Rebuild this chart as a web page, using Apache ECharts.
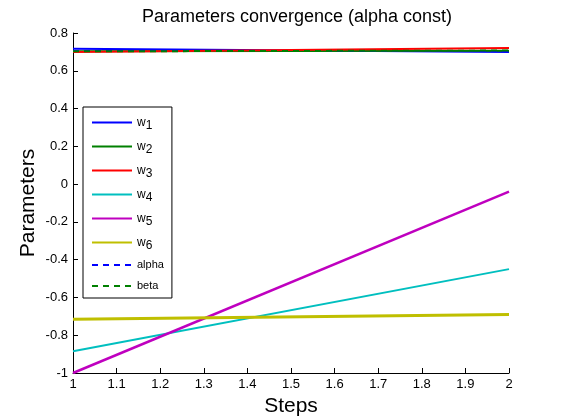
<!DOCTYPE html>
<html>
<head>
<meta charset="utf-8">
<script src="https://cdn.jsdelivr.net/npm/echarts@6/dist/echarts.min.js"></script>
<style>
html, body { margin: 0; padding: 0; background: #fff; }
#main { width: 561px; height: 420px; }
</style>
</head>
<body>
<div id="main"></div>
<script>
// steps on x axis
var steps = [1, 2];
// parameter values at each step
var w1 = [0.716, 0.699];
var w2 = [0.704, 0.706];
var w3 = [0.699, 0.720];
var w4 = [-0.885, -0.450];
var w5 = [-1.000, -0.040];
var w6 = [-0.715, -0.690];
var alpha = [0.705, 0.705];
var beta = [0.703, 0.707];

var xTicks = [1, 1.1, 1.2, 1.3, 1.4, 1.5, 1.6, 1.7, 1.8, 1.9, 2];
var yTicks = [-1, -0.8, -0.6, -0.4, -0.2, 0, 0.2, 0.4, 0.6, 0.8];

var font = 'Liberation Sans, Arial, sans-serif';

function pts(arr) {
    var out = [];
    for (var i = 0; i < steps.length; i++) {
        out.push([steps[i], arr[i]]);
    }
    return out;
}

function mk(name, arr, color, width, dashed) {
    return {
        name: name,
        type: 'line',
        data: pts(arr),
        symbol: 'circle',
        showSymbol: false,
        animation: false,
        lineStyle: { color: color, width: width, type: dashed ? [6, 5] : 'solid' },
        itemStyle: { color: color }
    };
}

var myChart = echarts.init(document.getElementById('main'));

var option = {
    backgroundColor: '#fff',
    animation: false,
    title: {
        text: 'Parameters convergence (alpha const)',
        left: 292, textAlign: 'center', top: 3,
        textStyle: { fontFamily: font, fontSize: 18, fontWeight: 'normal', color: '#000' }
    },
    legend: {
        orient: 'vertical',
        left: 83, top: 107,
        padding: [6, 8, 4, 8],
        itemGap: 5,
        itemWidth: 40,
        itemHeight: 20,
        backgroundColor: '#fff',
        borderColor: '#000',
        borderWidth: 1,
        borderRadius: 0,
        itemStyle: { opacity: 0 },
        data: ['w1', 'w2', 'w3', 'w4', 'w5', 'w6', 'alpha', 'beta'],
        formatter: function (n) {
            if (n.charAt(0) === 'w') return '{a|w}{b|' + n.substring(1) + '}';
            return '{c|' + n + '}';
        },
        textStyle: {
            fontFamily: font, color: '#000',
            rich: {
                a: { fontFamily: font, fontSize: 12, color: '#000', verticalAlign: 'top', lineHeight: 12 },
                b: { fontFamily: font, fontSize: 12, color: '#000', padding: [7, 0, 0, 0], lineHeight: 12 },
                c: { fontFamily: font, fontSize: 11, color: '#000' }
            }
        }
    },
    grid: { left: 73, right: 52, top: 33, bottom: 47, outerBoundsMode: 'none' },
    xAxis: {
        type: 'value', min: 1, max: 2, interval: 0.1,
        name: 'Steps', nameLocation: 'middle', nameGap: 22,
        nameTextStyle: { fontFamily: font, fontSize: 21, color: '#000' },
        axisLine: { show: true, onZero: false, lineStyle: { color: '#000', width: 1 } },
        axisTick: { inside: true, length: 5, lineStyle: { color: '#000' } },
        axisLabel: { fontFamily: font, fontSize: 13, color: '#000', margin: 5,
            formatter: function (v) { return xTicks.indexOf(Math.round(v * 10) / 10) >= 0 ? String(Math.round(v * 10) / 10) : ''; } },
        splitLine: { show: false }
    },
    yAxis: {
        type: 'value', min: -1, max: 0.8, interval: 0.2,
        name: 'Parameters', nameLocation: 'middle', nameGap: 34, nameMoveOverlap: false,
        nameTextStyle: { fontFamily: font, fontSize: 21, color: '#000' },
        axisLine: { show: true, onZero: false, lineStyle: { color: '#000', width: 1 } },
        axisTick: { inside: true, length: 5, lineStyle: { color: '#000' } },
        axisLabel: { fontFamily: font, fontSize: 13, color: '#000', margin: 5,
            formatter: function (v) { return String(Math.round(v * 10) / 10); } },
        splitLine: { show: false }
    },
    series: [
        mk('w1', w1, '#0000ff', 2),
        mk('w2', w2, '#008000', 2),
        mk('w3', w3, '#ff0000', 2),
        mk('w4', w4, '#00bfbf', 2),
        mk('w5', w5, '#bf00bf', 2.5),
        mk('w6', w6, '#bfbf00', 3),
        mk('alpha', alpha, '#0000ff', 2, true),
        mk('beta', beta, '#008000', 2, true)
    ]
};

myChart.setOption(option);
</script>
</body>
</html>
